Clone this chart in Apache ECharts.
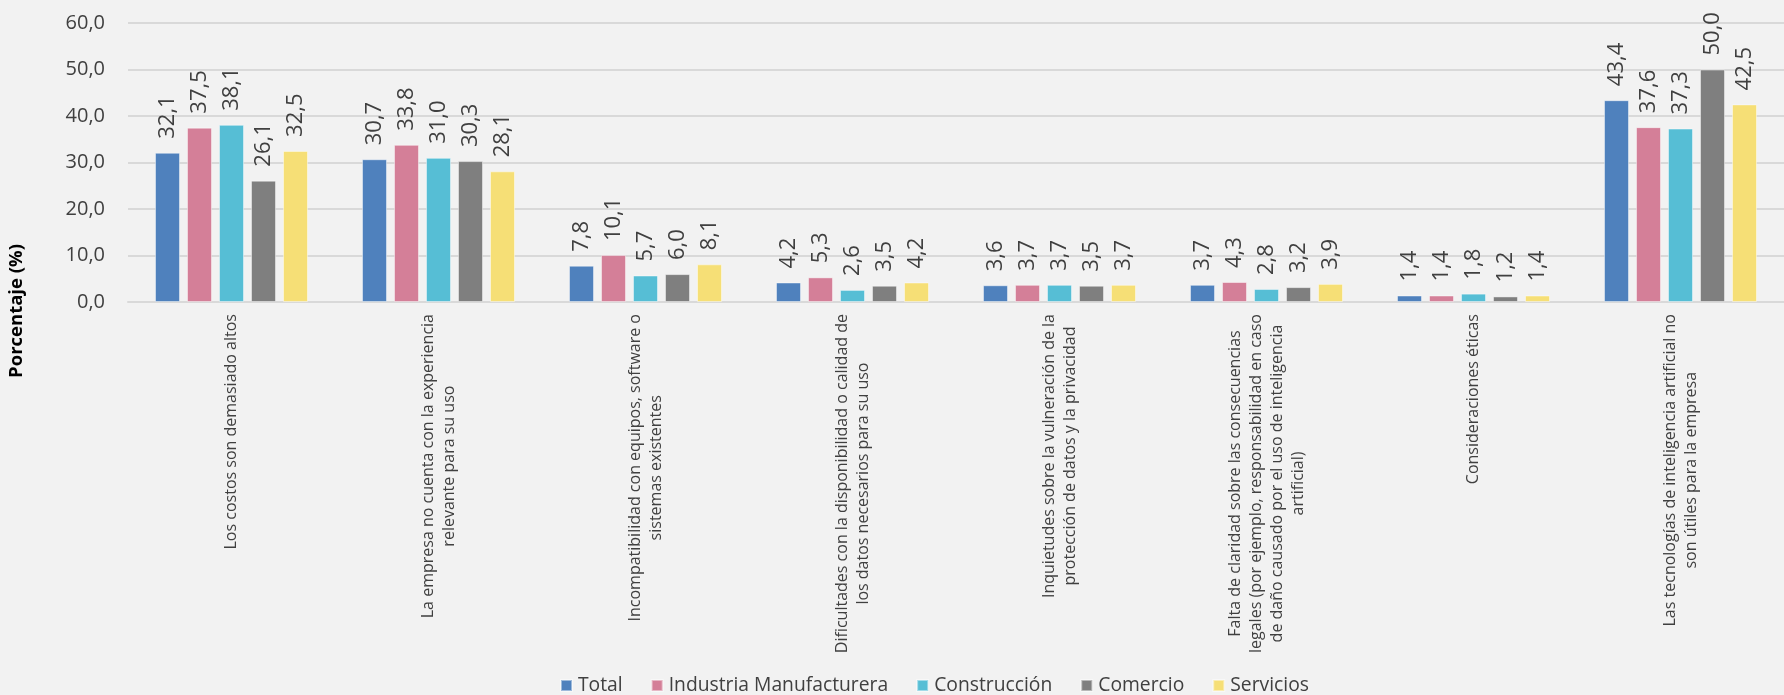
<!DOCTYPE html>
<html>
<head>
<meta charset="utf-8">
<script src="https://cdn.jsdelivr.net/npm/echarts@6/dist/echarts.min.js"></script>
<style>
html,body{margin:0;padding:0;background:#F2F2F2;}
#chart{width:1784px;height:695px;}
</style>
</head>
<body>
<div id="chart"></div>
<script>
const categories = [
  "Los costos son demasiado altos",
  "La empresa no cuenta con la experiencia\nrelevante para su uso",
  "Incompatibilidad con equipos, software o\nsistemas existentes",
  "Dificultades con la disponibilidad o calidad de\nlos datos necesarios para su uso",
  "Inquietudes sobre la vulneración de la\nprotección de datos y la privacidad",
  "Falta de claridad sobre las consecuencias\nlegales (por ejemplo, responsabilidad en caso\nde daño causado por el uso de inteligencia\nartificial)",
  "Consideraciones éticas",
  "Las tecnologías de inteligencia artificial no\nson útiles para la empresa"
];
const seriesNames = ["Total", "Industria Manufacturera", "Construcción", "Comercio", "Servicios"];
const total     = [32.1, 30.7, 7.8, 4.2, 3.6, 3.7, 1.4, 43.4];
const industria = [37.5, 33.8, 10.1, 5.3, 3.7, 4.3, 1.4, 37.6];
const construccion = [38.1, 31.0, 5.7, 2.6, 3.7, 2.8, 1.8, 37.3];
const comercio  = [26.1, 30.3, 6.0, 3.5, 3.5, 3.2, 1.2, 50.0];
const servicios = [32.5, 28.1, 8.1, 4.2, 3.7, 3.9, 1.4, 42.5];
const yTicks = [0, 10, 20, 30, 40, 50, 60];
const yTitle = "Porcentaje (%)";

const colors = ["#4F81BD", "#D47F98", "#56BED5", "#7F7F7F", "#F6DF76"];
const allData = [total, industria, construccion, comercio, servicios];
const fmt = v => Number(v).toFixed(1).replace('.', ',');
const textColor = "#404040";

const chart = echarts.init(document.getElementById('chart'));
chart.setOption({
  backgroundColor: "#F2F2F2",
  animation: false,
  color: colors,
  grid: { left: 128, top: 23, width: 1660, height: 279, containLabel: false },
  legend: {
    left: 560, top: 676, padding: 0,
    itemWidth: 11, itemHeight: 11, itemGap: 28,
    icon: 'rect',
    textStyle: { fontFamily: 'Open Sans', fontSize: 19.3, color: textColor, padding: [0,0,0,1] },
    data: seriesNames
  },
  xAxis: {
    type: 'category',
    data: categories,
    axisTick: { show: false },
    axisLine: { lineStyle: { color: '#D9D9D9', width: 2 } },
    axisLabel: {
      interval: 0, rotate: 90, margin: 12,
      color: textColor, fontFamily: 'Open Sans', fontSize: 16, lineHeight: 21,
      formatter: v => v.split('\n').map(l => '{c|' + l + '}').join('\n'),
      rich: { c: { align: 'center', fontFamily: 'Open Sans', fontSize: 16, lineHeight: 21, color: textColor } }
    }
  },
  yAxis: {
    type: 'value',
    min: yTicks[0], max: yTicks[yTicks.length - 1], interval: 10,
    axisLine: { show: false },
    axisTick: { show: false },
    splitLine: { lineStyle: { color: '#D9D9D9', width: 2 } },
    axisLabel: { margin: 23, color: textColor, fontFamily: 'Open Sans', fontSize: 20, formatter: v => fmt(v) }
  },
  graphic: [{
    type: 'text', x: 17, y: 311, rotation: Math.PI / 2,
    style: { text: yTitle, font: 'bold 18.5px "Open Sans"', fill: '#000', align: 'center', verticalAlign: 'middle' }
  }],
  series: seriesNames.map((n, i) => ({
    name: n, type: 'bar', data: allData[i],
    barWidth: 25, barGap: '28%',
    itemStyle: { color: colors[i], borderColor: 'rgba(255,255,255,0.45)', borderWidth: 1 },
    label: {
      show: true, position: 'top', rotate: 90, align: 'left', verticalAlign: 'middle',
      distance: 14, color: textColor, fontFamily: 'Open Sans', fontSize: 22,
      formatter: p => fmt(p.value)
    }
  }))
});
</script>
</body>
</html>
